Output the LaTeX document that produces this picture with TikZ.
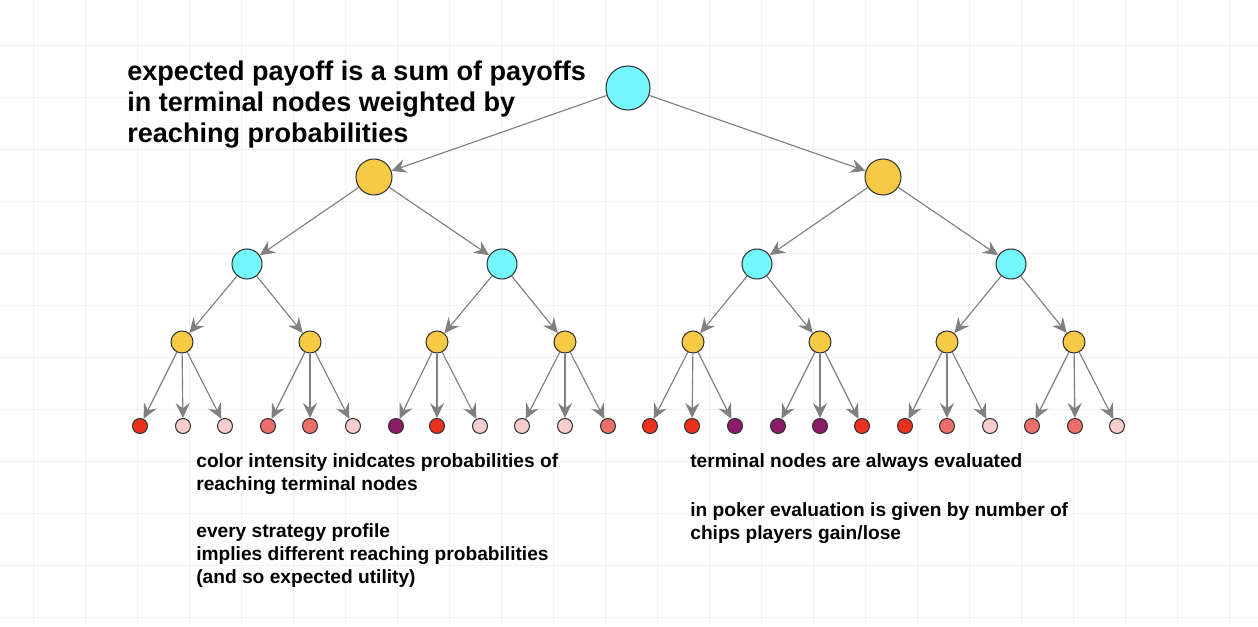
\documentclass[tikz,border=0pt]{standalone}
\usepackage{fontspec}
\setmainfont{Liberation Sans}
\usepackage{tikz}
\usetikzlibrary{arrows.meta, positioning}
\definecolor{nodecyan}{RGB}{114, 248, 252}
\definecolor{nodeyellow}{RGB}{246, 202, 68}
\definecolor{termred}{RGB}{232, 50, 30}
\definecolor{termsalmon}{RGB}{236, 110, 106}
\definecolor{termpink}{RGB}{248, 205, 205}
\definecolor{termpurple}{RGB}{138, 28, 104}
\definecolor{edgegray}{RGB}{128, 128, 128}

\tikzset{
  gamenode/.style={circle, draw=black!80, line width=0.6pt, inner sep=0pt},
  edge/.style={draw=edgegray, line width=0.65pt, -{Stealth[length=8.5pt, width=8pt, inset=3pt]}},
  gridline/.style={draw=black!5, line width=0.5pt},
  note/.style={font=\bfseries\fontsize{10.9}{13}\selectfont, align=left, inner sep=0pt, anchor=north west}
}

\begin{document}
\begin{tikzpicture}[x=0.02cm, y=0.02cm]
  \useasboundingbox (0,0) rectangle (1258,626);
  % background grid
  \fill[white] (0,0) rectangle (1258,626);
  \foreach \gx in {33,85,...,1258} \draw[gridline] (\gx,0) -- (\gx,626);
  \foreach \gy in {581,529,...,0} \draw[gridline] (0,\gy) -- (1258,\gy);

  % Root
  \node[gamenode, fill=nodecyan, minimum size=0.88cm] (top) at (628,538) {};

  % Level 1
  \node[gamenode, fill=nodeyellow, minimum size=0.72cm] (y1) at (374,449) {};
  \node[gamenode, fill=nodeyellow, minimum size=0.72cm] (y2) at (883,449) {};

  % Level 2
  \node[gamenode, fill=nodecyan, minimum size=0.6cm] (c1) at (247,362) {};
  \node[gamenode, fill=nodecyan, minimum size=0.6cm] (c2) at (502,362) {};
  \node[gamenode, fill=nodecyan, minimum size=0.6cm] (c3) at (757,362) {};
  \node[gamenode, fill=nodecyan, minimum size=0.6cm] (c4) at (1011,362) {};

  \draw[edge] (top) -- (y1);
  \draw[edge] (top) -- (y2);
  \draw[edge] (y1) -- (c1);
  \draw[edge] (y1) -- (c2);
  \draw[edge] (y2) -- (c3);
  \draw[edge] (y2) -- (c4);

  % Level 3
  \foreach \x [count=\i] in {182,310,437,565,693,820,947,1074} {
    \node[gamenode, fill=nodeyellow, minimum size=0.44cm] (d\i) at (\x,284) {};
    \pgfmathtruncatemacro\up{(\i+1)/2}
    \draw[edge] (c\up) -- (d\i);
  }

  % Terminal nodes
  \foreach \x/\c [count=\j] in {140/termred, 183/termpink, 225/termpink,
      268/termsalmon, 310/termsalmon, 353/termpink,
      396/termpurple, 437/termred, 480/termpink,
      522/termpink, 565/termpink, 608/termsalmon,
      650/termred, 692/termred, 735/termpurple,
      778/termpurple, 820/termpurple, 862/termred,
      905/termred, 947/termsalmon, 990/termpink,
      1032/termsalmon, 1075/termsalmon, 1117/termpink} {
    \node[gamenode, fill=\c, minimum size=0.3cm] (t\j) at (\x,200) {};
    \pgfmathtruncatemacro\up{(\j+2)/3}
    \draw[edge] (d\up) -- (t\j);
  }

  % Notes
  \node[font=\bfseries\fontsize{15.4}{17.6}\selectfont, align=left, inner sep=0pt, anchor=north west] (title) at (127,565)
    {expected payoff is a sum of payoffs\\in terminal nodes weighted by\\reaching probabilities};
  \node[note] (leftnote) at (196,173)
    {color intensity inidcates probabilities of\\reaching terminal nodes\\[14pt]every strategy profile\\implies different reaching probabilities\\(and so expected utility)};
  \node[note] (rightnote) at (690,173)
    {terminal nodes are always evaluated\\[15pt]in poker evaluation is given by number of\\chips players gain/lose};
\end{tikzpicture}
\end{document}
